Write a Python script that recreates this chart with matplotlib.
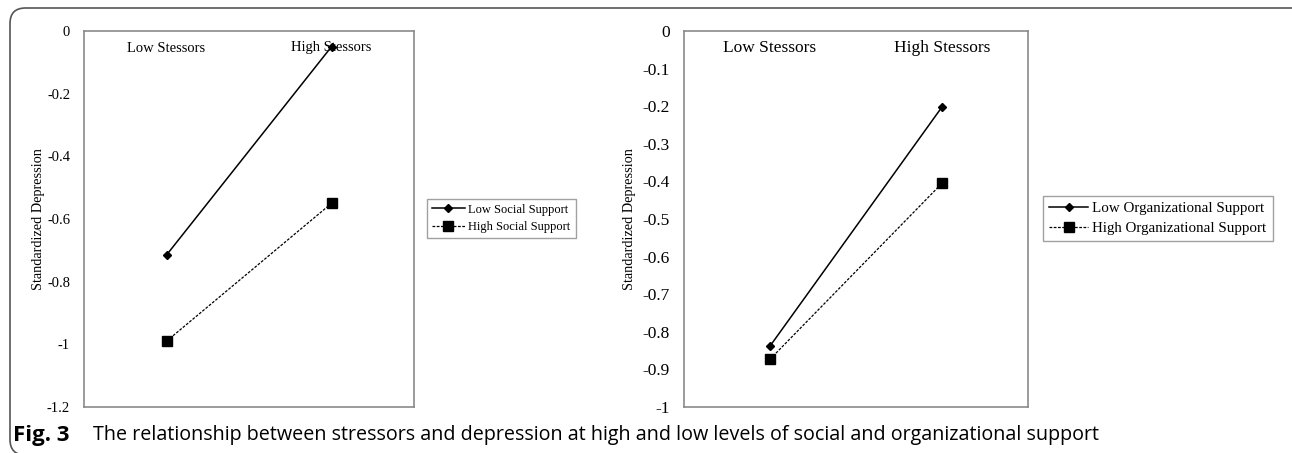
import matplotlib.pyplot as plt
from matplotlib.patches import FancyBboxPatch

# data
categories = ['Low Stessors', 'High Stessors']
social_low = [-0.715, -0.05]
social_high = [-0.99, -0.55]
org_low = [-0.838, -0.202]
org_high = [-0.873, -0.405]

left_ticks = [0, -0.2, -0.4, -0.6, -0.8, -1.0, -1.2]
left_ticklabels = ['0', '-0.2', '-0.4', '-0.6', '-0.8', '-1', '-1.2']
right_ticks = [0, -0.1, -0.2, -0.3, -0.4, -0.5, -0.6, -0.7, -0.8, -0.9, -1.0]
right_ticklabels = ['0', '-0.1', '-0.2', '-0.3', '-0.4', '-0.5', '-0.6',
                    '-0.7', '-0.8', '-0.9', '-1']

W, H = 1292, 453
fig = plt.figure(figsize=(W / 100, H / 100), dpi=100)
serif = 'Liberation Serif'


def px_axes(x0, y0, x1, y1):
    return fig.add_axes([x0 / W, 1 - y1 / H, (x1 - x0) / W, (y1 - y0) / H])


def panel(ax, low, high, ticks, ticklabels, ymin, labels, fs, cat_fs,
          lab_fs, leg_fs, legend_x, labelpad):
    x = [1, 2]
    ax.plot(x, low, color='black', lw=1.1, marker='D', ms=4.5,
            label=labels[0])
    ax.plot(x, high, color='black', lw=0.9, ls=(0, (2.2, 1.2)), marker='s',
            ms=6.5, label=labels[1])
    ax.set_xlim(0.5, 2.5)
    ax.set_ylim(ymin, 0)
    ax.set_xticks([])
    ax.set_yticks(ticks)
    ax.set_yticklabels(ticklabels, fontfamily=serif, fontsize=fs)
    ax.tick_params(axis='y', length=0, pad=10)
    for s in ax.spines.values():
        s.set_color('#8a8a8a')
        s.set_linewidth(1.2)
    for xi, c in zip(x, categories):
        ax.text(xi, 1 - 17 / 376, c, transform=ax.get_xaxis_transform(),
                ha='center', va='center', fontfamily=serif, fontsize=cat_fs)
    ax.set_ylabel('Standardized Depression', fontfamily=serif,
                  fontsize=lab_fs, labelpad=labelpad)
    leg = ax.legend(loc='center left', bbox_to_anchor=(legend_x, 1 - (218.5 - 31) / 376),
                    prop={'family': serif, 'size': leg_fs},
                    handlelength=2.6, numpoints=1, frameon=True,
                    fancybox=False, borderpad=0.4, labelspacing=0.45,
                    handletextpad=0.3, borderaxespad=0)
    leg.get_frame().set_edgecolor('#8a8a8a')
    leg.get_frame().set_linewidth(1.0)
    return ax


ax1 = px_axes(84, 31, 414, 407)
panel(ax1, social_low, social_high, left_ticks, left_ticklabels, -1.2,
      ['Low Social Support', 'High Social Support'], 10.5, 10.5, 10.3, 9,
      (427 - 84) / 330, 1.5)

ax2 = px_axes(684, 31, 1028, 407)
panel(ax2, org_low, org_high, right_ticks, right_ticklabels, -1.0,
      ['Low Organizational Support', 'High Organizational Support'],
      12.5, 12.5, 10.3, 10.8, (1043 - 684) / 344, 5)

# rounded frame around the figure, open to the right and bottom
frame = FancyBboxPatch((10 / W, -2 / H), (W + 40) / W, (H - 6) / H,
                       boxstyle='round,pad=0,rounding_size=0.012',
                       transform=fig.transFigure, fill=False,
                       edgecolor='#555555', lw=1.2, mutation_aspect=W / H)
fig.patches.append(frame)

fig.text(13 / W, 1 - 435 / H, 'Fig. 3', fontfamily='Open Sans',
         fontweight='bold', fontsize=16, va='center', ha='left')
fig.text(93 / W, 1 - 435 / H,
         'The relationship between stressors and depression at high and low '
         'levels of social and organizational support',
         fontfamily='Open Sans', fontsize=14.2, va='center', ha='left')

fig.savefig('out.png', dpi=100)
